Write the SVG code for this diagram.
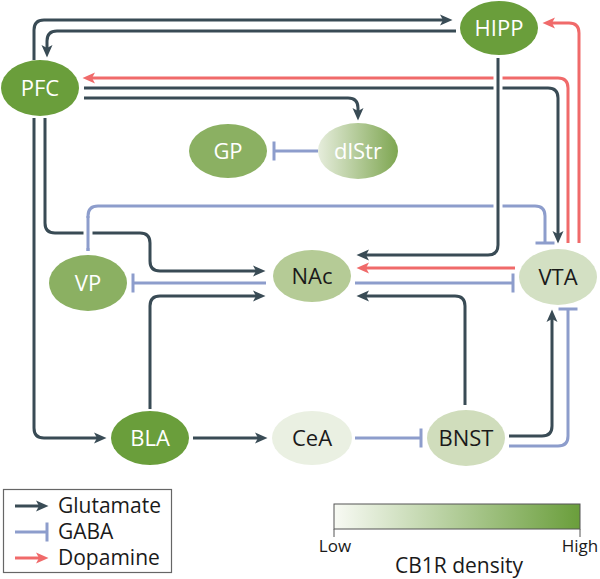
<svg xmlns="http://www.w3.org/2000/svg" width="600" height="579" viewBox="0 0 600 579">
<defs>
<style>
.glu{fill:none;stroke:#394b55;stroke-width:3;marker-end:url(#ah-glu)}
.gaba{fill:none;stroke:#8d9dcc;stroke-width:3;marker-end:url(#tb)}
.da{fill:none;stroke:#f06a6a;stroke-width:3;marker-end:url(#ah-da)}
.halo{fill:none;stroke:#ffffff;stroke-width:9}
.lbl{font-family:"Open Sans","DejaVu Sans",sans-serif;font-size:22px;text-anchor:middle}
.w{fill:#ffffff}
.k{fill:#1a1a1a}
.leg{font-family:"Open Sans","DejaVu Sans",sans-serif;font-size:21px;fill:#1a1a1a}
.sc{font-family:"Open Sans","DejaVu Sans",sans-serif;font-size:17px;fill:#1a1a1a;text-anchor:middle}
</style>
<marker id="ah-glu" markerUnits="userSpaceOnUse" markerWidth="13" markerHeight="12" viewBox="0 0 13 12" refX="8" refY="6" orient="auto">
<path d="M0,0.5 L12.5,6 L0,11.5 L3,6 Z" fill="#394b55"/>
</marker>
<marker id="ah-da" markerUnits="userSpaceOnUse" markerWidth="13" markerHeight="12" viewBox="0 0 13 12" refX="8" refY="6" orient="auto">
<path d="M0,0.5 L12.5,6 L0,11.5 L3,6 Z" fill="#f06a6a"/>
</marker>
<marker id="tb" markerUnits="userSpaceOnUse" markerWidth="4" markerHeight="20" viewBox="0 0 4 20" refX="2" refY="10" orient="auto">
<rect x="0.5" y="0.5" width="3" height="19" fill="#8d9dcc"/>
</marker>
<linearGradient id="g-dlstr" x1="0" y1="0" x2="1" y2="0">
<stop offset="0" stop-color="#e6eddc"/>
<stop offset="1" stop-color="#7ea651"/>
</linearGradient>
<linearGradient id="g-bar" x1="0" y1="0" x2="1" y2="0">
<stop offset="0" stop-color="#f8faf4"/>
<stop offset="1" stop-color="#6a9e3b"/>
</linearGradient>
</defs>
<rect width="600" height="579" fill="#ffffff"/>

<g id="connectors">
<!-- PFC -> HIPP -->
<path class="glu" d="M34,60 V30 Q34,20 44,20 H448"/>
<!-- HIPP -> PFC -->
<path class="glu" d="M456,31 H57 Q47,31 47,41 V53"/>
<!-- VTA -> PFC (dopamine) -->
<path class="da" d="M568,243 V88 Q568,78 558,78 H87"/>
<!-- VTA -> HIPP (dopamine) -->
<path class="da" d="M579,243 V33 Q579,23 569,23 H547"/>
<!-- PFC -> VTA -->
<path class="glu" d="M84,88 H548 Q558,88 558,98 V239"/>
<!-- PFC -> dlStr -->
<path class="glu" d="M84,98 H348 Q358,98 358,108 V116"/>
<!-- dlStr -| GP -->
<path class="gaba" d="M318,151 H274"/>
<!-- PFC -> BLA -->
<path class="glu" d="M34,118 V428 Q34,438 44,438 H102"/>
<!-- PFC -> NAc -->
<path class="glu" d="M45,118 V223 Q45,233 55,233 H140 Q150,233 150,243 V261 Q150,271 160,271 H261"/>
<!-- VP -| VTA -->
<path class="gaba" d="M88,251 V216 Q88,206 98,206 H535 Q545,206 545,216 V243"/>
<path class="halo" d="M88,248 V218"/>
<path fill="none" stroke="#8d9dcc" stroke-width="3" d="M88,251 V216"/>
<!-- HIPP -> NAc -->
<path class="halo" d="M498,62 V240"/>
<path class="glu" d="M498,58 V245 Q498,255 488,255 H361"/>
<!-- VTA -> NAc (dopamine) -->
<path class="da" d="M515,268 H361"/>
<!-- NAc -| VTA -->
<path class="gaba" d="M355,283 H513"/>
<!-- NAc -| VP -->
<path class="gaba" d="M266,283 H133"/>
<!-- BNST -> NAc -->
<path class="glu" d="M465,405 V306 Q465,296 455,296 H361"/>
<!-- BLA -> NAc -->
<path class="glu" d="M150,409 V306 Q150,296 160,296 H261"/>
<!-- BLA -> CeA -->
<path class="glu" d="M193,438 H263"/>
<!-- CeA -| BNST -->
<path class="gaba" d="M355,438 H421"/>
<!-- BNST -> VTA -->
<path class="glu" d="M509,436 H542 Q552,436 552,426 V314"/>
<!-- BNST -| VTA -->
<path class="gaba" d="M509,446 H558 Q568,446 568,436 V309"/>
</g>

<g id="node-PFC"><ellipse cx="40" cy="88" rx="39" ry="28" fill="#6a9e3b"/><text class="lbl w" x="40" y="96">PFC</text></g>
<g id="node-HIPP"><ellipse cx="499" cy="28" rx="39" ry="27" fill="#6a9e3b"/><text class="lbl w" x="499" y="36">HIPP</text></g>
<g id="node-GP"><ellipse cx="228" cy="151" rx="39" ry="27" fill="#8bb062"/><text class="lbl w" x="228" y="159">GP</text></g>
<g id="node-dlStr"><ellipse cx="358" cy="151" rx="40" ry="28" fill="url(#g-dlstr)"/><text class="lbl w" x="358" y="159">dlStr</text></g>
<g id="node-VP"><ellipse cx="88" cy="283" rx="39" ry="28" fill="#8bb062"/><text class="lbl w" x="88" y="291">VP</text></g>
<g id="node-NAc"><ellipse cx="312" cy="276" rx="39" ry="26" fill="#b5cb96"/><text class="lbl k" x="312" y="284">NAc</text></g>
<g id="node-VTA"><ellipse cx="558" cy="277" rx="39" ry="28" fill="#d3e0c3"/><text class="lbl k" x="558" y="285">VTA</text></g>
<g id="node-BLA"><ellipse cx="150" cy="438" rx="39" ry="27" fill="#6a9e3b"/><text class="lbl w" x="150" y="446">BLA</text></g>
<g id="node-CeA"><ellipse cx="312" cy="438" rx="40" ry="27" fill="#eaf0e2"/><text class="lbl k" x="312" y="446">CeA</text></g>
<g id="node-BNST"><ellipse cx="466" cy="438" rx="39" ry="28" fill="#d0ddbc"/><text class="lbl k" x="466" y="446">BNST</text></g>

<g id="legend">
<rect x="3.5" y="489.5" width="168" height="83" fill="#ffffff" stroke="#666666" stroke-width="1.2"/>
<path class="glu" d="M15,506 H44"/>
<text class="leg" x="58" y="513">Glutamate</text>
<path class="gaba" d="M15,532 H47"/>
<text class="leg" x="58" y="539">GABA</text>
<path class="da" d="M15,558 H44"/>
<text class="leg" x="58" y="565">Dopamine</text>
</g>

<g id="scale">
<rect x="334" y="504" width="246" height="25" fill="url(#g-bar)" stroke="#555555" stroke-width="1"/>
<line x1="334" y1="529" x2="334" y2="537" stroke="#555555" stroke-width="1"/>
<line x1="580" y1="529" x2="580" y2="537" stroke="#555555" stroke-width="1"/>
<text class="sc" x="335" y="552">Low</text>
<text class="sc" x="580" y="552">High</text>
<text class="sc" x="459" y="573" style="font-size:21px">CB1R density</text>
</g>
</svg>
